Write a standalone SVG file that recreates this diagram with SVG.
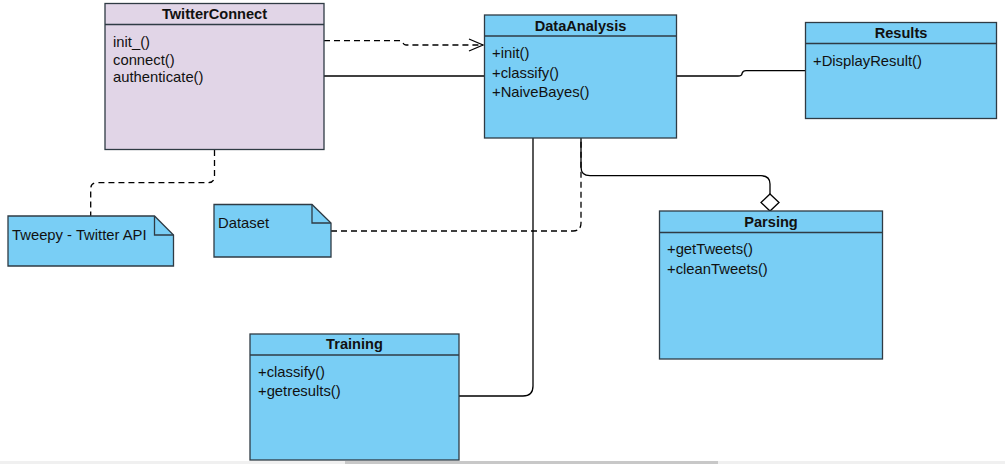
<svg xmlns="http://www.w3.org/2000/svg" width="1005" height="464" viewBox="0 0 1005 464">
<defs>
<style>
.box{fill:#79cef5;stroke:#2f3b44;stroke-width:1.3}
.purple{fill:#e1d5e7}
.div{stroke:#2f3b44;stroke-width:1.3;fill:none}
.t{font-family:"Liberation Sans",Arial,sans-serif;font-size:14.8px;fill:#111}
.h{font-family:"Liberation Sans",Arial,sans-serif;font-size:14.6px;font-weight:bold;fill:#111;text-anchor:middle}
.c{fill:none;stroke:#000;stroke-width:1.3}
.d{stroke-dasharray:6 4}
</style>
<marker id="open" markerWidth="16" markerHeight="14" refX="15" refY="7" orient="auto" markerUnits="userSpaceOnUse">
<path d="M1,1 L15,7 L1,13" fill="none" stroke="#000" stroke-width="1.3"/>
</marker>
</defs>
<rect width="1005" height="464" fill="#fff"/>
<g id="connectors">
<path class="c d" d="M324,40.7 H400 Q402,40.7 403,43 Q404,45 406,45 H483" marker-end="url(#open)"/>
<path class="c" d="M324,76 H484"/>
<path class="c" d="M677,76 H738 Q742,76 742,73.5 Q743,70.7 746,70.7 H805"/>
<path class="c d" d="M214.5,150 V176 Q214.5,182.7 208,182.7 H97 Q90.7,182.7 90.7,189 V216"/>
<path class="c d" d="M331,231 H573 Q581,231 581,223 V140"/>
<path class="c" d="M581,138 V167 Q581,175.7 590,175.7 H761 Q770,175.7 770,184 V194"/>
<path d="M770,194 L779,202.5 L770,211 L761,202.5 Z" fill="#fff" stroke="#000" stroke-width="1.3"/>
<path class="c" d="M533,138 V386 Q533,396 523,396 H459"/>
</g>
<g id="TwitterConnect">
<rect class="box purple" x="105" y="3.5" width="219" height="146"/>
<line class="div" x1="105" y1="24.5" x2="324" y2="24.5"/>
<text class="h" x="214.5" y="19.3">TwitterConnect</text>
<text class="t" x="113" y="47">init_()</text>
<text class="t" x="113" y="65">connect()</text>
<text class="t" x="113" y="82">authenticate()</text>
</g>
<g id="DataAnalysis">
<rect class="box" x="484.5" y="15" width="192" height="123"/>
<line class="div" x1="484.5" y1="36" x2="676.5" y2="36"/>
<text class="h" x="580.5" y="31.3">DataAnalysis</text>
<text class="t" x="492" y="58.3">+init()</text>
<text class="t" x="492" y="78">+classify()</text>
<text class="t" x="492" y="97">+NaiveBayes()</text>
</g>
<g id="Results">
<rect class="box" x="805.5" y="22.5" width="191" height="96"/>
<line class="div" x1="805.5" y1="43.5" x2="996.5" y2="43.5"/>
<text class="h" x="901" y="38">Results</text>
<text class="t" x="813" y="66.3">+DisplayResult()</text>
</g>
<g id="Tweepy">
<path class="box" d="M8,216 H154.5 L173.5,235 V266 H8 Z"/>
<path class="div" d="M154.5,216 V235 H173.5"/>
<text class="t" x="12" y="240.3">Tweepy - Twitter API</text>
</g>
<g id="Dataset">
<path class="box" d="M214,204.5 H312 L331,223 V257 H214 Z"/>
<path class="div" d="M312,204.5 V223 H331"/>
<text class="t" x="218" y="228">Dataset</text>
</g>
<g id="Parsing">
<rect class="box" x="659.5" y="211" width="223" height="148"/>
<line class="div" x1="659.5" y1="232.5" x2="882.5" y2="232.5"/>
<text class="h" x="771" y="227">Parsing</text>
<text class="t" x="667" y="254.3">+getTweets()</text>
<text class="t" x="667" y="273.6">+cleanTweets()</text>
</g>
<g id="Training">
<rect class="box" x="250" y="334" width="209" height="126"/>
<line class="div" x1="250" y1="355" x2="459" y2="355"/>
<text class="h" x="354.5" y="349.3">Training</text>
<text class="t" x="258" y="377">+classify()</text>
<text class="t" x="258" y="396.3">+getresults()</text>
</g>
<rect x="0" y="461" width="1005" height="3" fill="#f0f0f0"/>
<rect x="345" y="461" width="373" height="3" fill="#c8c8c8"/>
</svg>
